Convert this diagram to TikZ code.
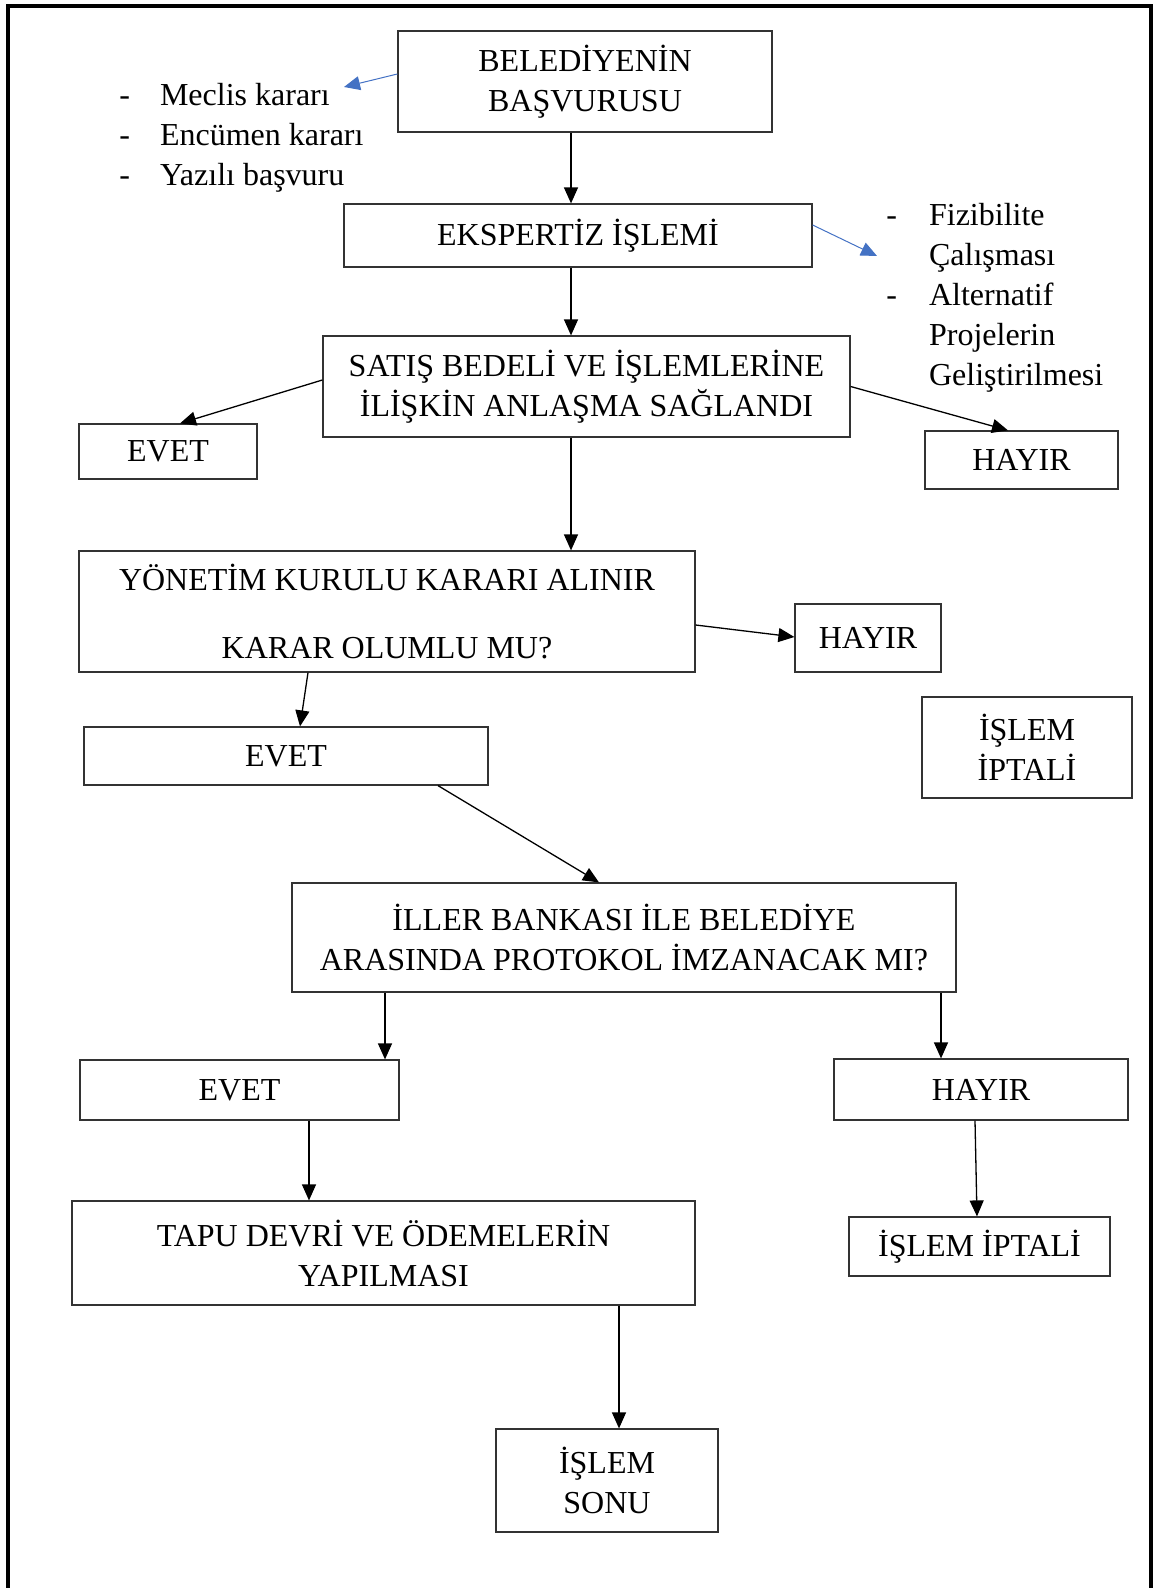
\documentclass[tikz,border=0pt]{standalone}
\usepackage{fontspec}
\setmainfont{Liberation Serif}
\usetikzlibrary{arrows.meta, positioning}
\definecolor{wordblue}{RGB}{68,114,196}

\begin{document}
\begin{tikzpicture}[x=0.5pt, y=-0.5pt,
    block/.style={rectangle, draw=black!80, line width=0.6pt, align=center, inner sep=0pt, font=\fontsize{16}{20}\selectfont},
    list/.style={inner sep=0pt, anchor=west, font=\fontsize{16}{20}\selectfont},
    arrow/.style={line width=0.65pt,->,>={Triangle[length=8pt,width=7pt]}},
    bluearrow/.style={arrow, draw=wordblue, line width=0.5pt}]
    \useasboundingbox (0,0) rectangle (1155,1588);
    \draw [line width=2pt] (8,1588) -- (8,6) -- (1151,6) -- (1151,1588);

    \node [block, minimum width=187pt, minimum height=50.5pt] (basvuru) at (585,81.5) {BELEDİYENİN\\BAŞVURUSU};
    \node [block, minimum width=234pt, minimum height=31.5pt] (ekspertiz) at (578,235.5) {EKSPERTİZ İŞLEMİ};
    \node [block, minimum width=263.5pt, minimum height=50.5pt] (satis) at (586.5,386.5) {SATIŞ BEDELİ VE İŞLEMLERİNE\\İLİŞKİN ANLAŞMA SAĞLANDI};
    \node [block, minimum width=89pt, minimum height=27.5pt] (evet1) at (168,451.5) {EVET};
    \node [block, minimum width=96.5pt, minimum height=29pt] (hayir1) at (1021.5,460) {HAYIR};
    \node [block, minimum width=308pt, minimum height=60.5pt] (yonetim) at (387,611.5) {YÖNETİM KURULU KARARI ALINIR\\[14pt]KARAR OLUMLU MU?};
    \node [block, minimum width=73pt, minimum height=34pt] (hayir2) at (868,638) {HAYIR};
    \node [block, minimum width=105pt, minimum height=50.5pt] (iptal1) at (1027,747.5) {İŞLEM\\İPTALİ};
    \node [block, minimum width=202pt, minimum height=29pt] (evet2) at (286,756) {EVET};
    \node [block, minimum width=332pt, minimum height=54.5pt] (iller) at (624,937.5) {İLLER BANKASI İLE BELEDİYE\\ARASINDA PROTOKOL İMZANACAK MI?};
    \node [block, minimum width=159.5pt, minimum height=30pt] (evet3) at (239.5,1090) {EVET};
    \node [block, minimum width=147pt, minimum height=30.5pt] (hayir3) at (981,1089.5) {HAYIR};
    \node [block, minimum width=311.5pt, minimum height=52pt] (tapu) at (383.5,1253) {TAPU DEVRİ VE ÖDEMELERİN\\YAPILMASI};
    \node [block, minimum width=130.5pt, minimum height=29.5pt] (iptal2) at (979.5,1246.5) {İŞLEM İPTALİ};
    \node [block, minimum width=111pt, minimum height=51.5pt] (sonu) at (607,1480.5) {İŞLEM\\SONU};

    % side lists
    \node [list] (karar) at (119,137.5) {\begin{tabular}{@{}l@{\hspace{15pt}}l@{}}
        - & Meclis kararı\\ - & Encümen kararı\\ - & Yazılı başvuru\end{tabular}};
    \node [list] (fizib) at (886,297.5) {\begin{tabular}{@{}l@{\hspace{16pt}}l@{}}
        - & Fizibilite\\ & Çalışması\\ - & Alternatif\\ & Projelerin\\ & Geliştirilmesi\end{tabular}};
    \coordinate (kararuc) at (344,87);
    \coordinate (fizibuc) at (877,256);

    \draw [bluearrow] ([yshift=3.75pt]basvuru.west) -- (kararuc);
    \draw [bluearrow] ([yshift=5.25pt]ekspertiz.east) -- (fizibuc);
    \draw [arrow] (571,0 |- basvuru.south) -- (571,0 |- ekspertiz.north);
    \draw [arrow] (571,0 |- ekspertiz.south) -- (571,0 |- satis.north);
    \draw [arrow] (satis.west |- 0,380) -- (180,0 |- evet1.north);
    \draw [arrow] (satis.east) -- (1008,0 |- hayir1.north);
    \draw [arrow] (571,0 |- satis.south) -- (571,0 |- yonetim.north);
    \draw [arrow] (yonetim.east |- 0,625) -- (hayir2.west |- 0,637);
    \draw [arrow] (308,0 |- yonetim.south) -- (300,0 |- evet2.north);
    \draw [arrow] (438,0 |- evet2.south) -- (599,0 |- iller.north);
    \draw [arrow] (385,0 |- iller.south) -- (385,0 |- evet3.north);
    \draw [arrow] (941,0 |- iller.south) -- (941,0 |- hayir3.north);
    \draw [arrow] (309,0 |- evet3.south) -- (309,0 |- tapu.north);
    \draw [arrow] (975,0 |- hayir3.south) -- (977,0 |- iptal2.north);
    \draw [arrow] (619,0 |- tapu.south) -- (619,0 |- sonu.north);
\end{tikzpicture}
\end{document}
